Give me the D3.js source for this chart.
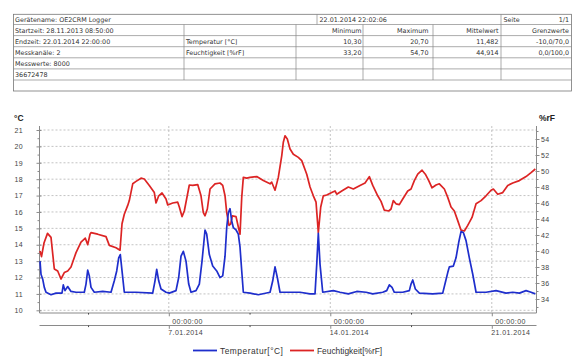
<!DOCTYPE html>
<html>
<head>
<meta charset="utf-8">
<script src="https://cdn.jsdelivr.net/npm/d3@7"></script>
<style>
  body { margin: 0; background: #fff; }
  svg text { font-family: "Liberation Sans", Arial, sans-serif; }
  .tbl text { font-family: "DejaVu Sans", sans-serif; font-size: 6.4px; fill: #333; }
  .ax text { font-size: 7px; fill: #444; letter-spacing: 0.4px; }
</style>
</head>
<body>
<svg width="584" height="362"></svg>
<script>
// ---- table texts ----
var infoLines = [
  "Startzeit: 28.11.2013 08:50:00",
  "Endzeit: 22.01.2014 22:00:00",
  "Messkanäle: 2",
  "Messwerte: 8000",
  "36672478"
];
var deviceName = "Gerätename: OE2CRM Logger";
var printDate = "22.01.2014 22:02:06";
var pageLabel = ["Seite", "1/1"];
var statHeaders = ["Minimum", "Maximum", "Mittelwert", "Grenzwerte"];
var channelNames = ["Temperatur [°C]", "Feuchtigkeit [%rF]"];
var statValues = [
  ["10,30", "20,70", "11,482", "-10,0/70,0"],
  ["33,20", "54,70", "44,914", "0,0/100,0"]
];

// ---- chart data (day in January 2014, fractional) ----
var tempDay = [1.417, 1.460, 1.534, 1.603, 1.677, 1.894, 2.110, 2.370, 2.427, 2.500, 2.617, 2.761, 2.978,
  3.337, 3.411, 3.485, 3.554, 3.628, 3.771, 4.135, 4.495, 4.638, 4.742, 4.828, 4.898, 4.972, 5.071,
  5.578, 6.302, 6.402, 6.476, 6.562, 6.662, 6.879, 7.022, 7.312, 7.429, 7.529, 7.629, 7.746, 7.863,
  7.963, 8.179, 8.323, 8.440, 8.570, 8.643, 8.756, 8.903, 9.077, 9.220, 9.337, 9.437, 9.510, 9.580,
  9.653, 9.727, 9.796, 9.914, 10.013, 10.087, 10.161, 10.230, 10.521, 10.880, 11.388, 11.505, 11.604,
  11.704, 11.821, 12.255, 12.688, 13.122, 13.338, 13.412, 13.481, 13.555, 13.672, 14.131, 14.422,
  14.781, 15.146, 15.549, 15.840, 16.273, 16.446, 16.559, 16.676, 16.776, 17.140, 17.426, 17.500,
  17.574, 17.686, 17.860, 18.440, 18.874, 18.986, 19.091, 19.160, 19.334, 19.450, 19.567, 19.667,
  19.767, 19.884, 20.027, 20.175, 20.318, 20.751, 21.185, 21.618, 21.909, 22.195, 22.485, 22.702, 22.888];
var tempVal = [13.0, 12.2, 11.9, 11.4, 11.1, 10.95, 11.05, 11.05, 11.55, 11.2, 11.45, 11.15, 11.1,
  11.1, 11.6, 12.45, 12.1, 11.4, 11.1, 11.15, 11.1, 11.8, 12.4, 13.2, 13.4, 12.4, 11.1,
  11.1, 11.05, 11.8, 12.5, 11.8, 11.3, 11.1, 11.05, 11.2, 12.0, 13.3, 13.6, 13.0, 11.6,
  11.1, 11.2, 11.6, 13.0, 14.9, 14.65, 13.4, 12.7, 12.4, 12.0, 12.1, 13.3, 15.05, 15.95,
  16.2, 15.45, 15.05, 14.9, 14.65, 13.85, 12.4, 11.1, 11.05, 10.95, 11.1, 11.8, 12.65,
  12.0, 11.1, 11.1, 11.1, 11.0, 11.0, 12.8, 14.7, 12.8, 11.1, 11.2, 11.1,
  11.0, 11.15, 11.1, 11.0, 11.1, 11.2, 11.55, 11.4, 11.1, 11.1, 11.2, 11.6,
  11.85, 11.3, 11.05, 11.0, 11.05, 11.7, 12.3, 12.65, 12.7, 13.2, 14.15, 14.8,
  14.75, 14.25, 13.2, 12.2, 11.1, 11.1, 11.2, 11.05, 11.1, 11.05, 11.2, 11.1, 11.0];

var humDay = [1.417, 1.482, 1.590, 1.742, 1.894, 2.037, 2.184, 2.327, 2.470, 2.618, 2.761, 2.978, 3.194,
  3.381, 3.485, 3.585, 3.628, 3.918, 4.278, 4.421, 4.712, 4.885, 4.972, 5.071, 5.219, 5.288, 5.436,
  5.579, 5.795, 5.938, 6.155, 6.372, 6.446, 6.563, 6.706, 6.879, 6.953, 7.170, 7.386, 7.456, 7.573,
  7.672, 7.889, 8.037, 8.253, 8.396, 8.496, 8.570, 8.670, 8.787, 9.003, 9.220, 9.337, 9.437, 9.510,
  9.610, 9.684, 9.753, 9.914, 10.013, 10.087, 10.161, 10.230, 10.378, 10.521, 10.811, 11.097, 11.388,
  11.461, 11.604, 11.747, 11.895, 11.964, 12.038, 12.137, 12.255, 12.398, 12.614, 12.762, 12.979,
  13.122, 13.265, 13.382, 13.481, 13.585, 13.698, 13.846, 14.062, 14.205, 14.279, 14.496, 14.782,
  14.999, 15.289, 15.506, 15.692, 15.840, 16.056, 16.199, 16.342, 16.533, 16.633, 16.733, 16.850,
  16.993, 17.140, 17.357, 17.500, 17.643, 17.790, 17.977, 18.120, 18.267, 18.410, 18.584, 18.727,
  18.944, 19.091, 19.234, 19.377, 19.524, 19.667, 19.811, 19.958, 20.144, 20.318, 20.534, 20.751,
  20.968, 21.068, 21.258, 21.475, 21.692, 21.909, 22.195, 22.485, 22.702, 22.888];
var humVal = [40.0, 39.3, 41.0, 42.2, 41.7, 37.75, 37.5, 36.5, 37.3, 37.5, 38.0, 39.8, 41.1,
  41.6, 40.8, 42.1, 42.3, 42.1, 41.8, 40.7, 40.4, 40.1, 43.4, 44.6, 45.7, 46.3, 48.4,
  48.7, 49.1, 49.0, 48.2, 47.3, 46.0, 46.9, 47.25, 46.5, 45.75, 46.0, 46.1, 45.5, 44.3,
  45.0, 48.25, 48.2, 48.3, 46.9, 44.8, 44.4, 45.25, 47.75, 48.4, 48.5, 48.2, 46.9, 44.8,
  43.2, 43.4, 44.4, 44.3, 43.0, 42.1, 46.7, 49.2, 49.1, 49.2, 49.3, 48.8, 48.4,
  48.6, 47.6, 49.2, 51.9, 53.6, 54.4, 54.0, 52.75, 52.1, 51.7, 51.3, 49.6,
  48.0, 46.9, 46.1, 42.3, 45.5, 46.9, 47.0, 47.3, 47.5, 47.1, 47.5, 48.0,
  47.75, 48.2, 48.5, 49.3, 48.2, 46.9, 46.2, 45.1, 45.0, 45.25, 46.3, 45.9,
  45.8, 46.5, 47.5, 47.75, 48.8, 49.6, 50.1, 49.6, 48.8, 47.9, 48.25, 48.4,
  47.75, 46.7, 45.5, 45.0, 43.8, 42.6, 42.5, 43.2, 44.2, 45.9, 46.3, 46.9,
  47.6, 47.75, 47.1, 47.3, 48.2, 48.5, 48.8, 49.3, 49.8, 50.25];

var tempTicks = d3.range(10, 22);
var tempMinor = d3.range(10.5, 21, 1);
var humTicks = d3.range(34, 56, 2);
var humMinor = d3.range(33, 56, 2);
var seriesNames = ["Temperatur[°C]", "Feuchtigkeit[%rF]"];
var seriesColors = ["#1e2ecc", "#dc2424"];

// ---- setup ----
var svg = d3.select("svg");
var jan = new Date(2014, 0, 1).getTime();
function dayToDate(d) { return new Date(jan + (d - 1) * 864e5); }

// note: "top" is taken by window.top, so plotTop
var plotLeft = 39.5, plotRight = 536.5, plotTop = 126, plotBottom = 313;

var x = d3.scaleTime()
  .domain([new Date(2014, 0, 1, 10), new Date(2014, 0, 22, 22)])
  .range([40, 536]);
var yT = d3.scaleLinear().domain([10, 21]).range([310.3, 130]);
var yH = d3.scaleLinear().domain([34, 54]).range([299, 139]);

var weekTicks = [new Date(2014, 0, 7), new Date(2014, 0, 14), new Date(2014, 0, 21)];
var halfTicks = [new Date(2014, 0, 3, 12), new Date(2014, 0, 10, 12), new Date(2014, 0, 17, 12)];

// ---- table ----
var tbl = svg.append("g").attr("class", "tbl");
var rowY = [14.3, 24.5, 35.6, 46.7, 57.8, 68.9, 80, 91];
var colX = [184, 296, 363, 433, 501];

tbl.append("rect").attr("x", 13.5).attr("y", rowY[0]).attr("width", 558).attr("height", rowY[7] - rowY[0])
  .attr("fill", "none").attr("stroke", "#777").attr("stroke-width", 0.8);
tbl.selectAll(".hl").data(rowY.slice(1, 7)).enter().append("line")
  .attr("x1", 13.5).attr("x2", 571.5).attr("y1", function(d) { return d; }).attr("y2", function(d) { return d; })
  .attr("stroke", "#888").attr("stroke-width", 0.7);
tbl.selectAll(".vl").data(colX).enter().append("line")
  .attr("x1", function(d) { return d; }).attr("x2", function(d) { return d; })
  .attr("y1", rowY[1]).attr("y2", rowY[6])
  .attr("stroke", "#888").attr("stroke-width", 0.7);
tbl.selectAll(".vl1").data([317, 501]).enter().append("line")
  .attr("x1", function(d) { return d; }).attr("x2", function(d) { return d; })
  .attr("y1", rowY[0]).attr("y2", rowY[1])
  .attr("stroke", "#888").attr("stroke-width", 0.7);

tbl.append("text").attr("x", 15).attr("y", rowY[1] - 2.6).text(deviceName);
tbl.append("text").attr("x", 319.5).attr("y", rowY[1] - 2.6).text(printDate);
tbl.append("text").attr("x", 503.5).attr("y", rowY[1] - 2.6).text(pageLabel[0]);
tbl.append("text").attr("x", 569).attr("y", rowY[1] - 2.6).attr("text-anchor", "end").text(pageLabel[1]);

tbl.selectAll(".info").data(infoLines).enter().append("text")
  .attr("x", 15).attr("y", function(d, i) { return rowY[i + 2] - 2.8; })
  .text(function(d) { return d; });

var rightEdges = [361.5, 428.5, 498.5, 569];
tbl.selectAll(".hdr").data(statHeaders).enter().append("text")
  .attr("x", function(d, i) { return rightEdges[i]; }).attr("y", rowY[2] - 2.8)
  .attr("text-anchor", "end").text(function(d) { return d; });
channelNames.forEach(function(name, r) {
  tbl.append("text").attr("x", 186).attr("y", rowY[r + 3] - 2.8).text(name);
  tbl.selectAll(".v" + r).data(statValues[r]).enter().append("text")
    .attr("x", function(d, i) { return rightEdges[i]; }).attr("y", rowY[r + 3] - 2.8)
    .attr("text-anchor", "end").text(function(d) { return d; });
});

// ---- grid ----
var grid = svg.append("g").attr("stroke", "#b4b4b4").attr("stroke-width", 0.8).attr("stroke-dasharray", "2,2");
grid.selectAll(".gh").data(tempTicks).enter().append("line")
  .attr("x1", plotLeft).attr("x2", plotRight)
  .attr("y1", function(d) { return yT(d); }).attr("y2", function(d) { return yT(d); });
grid.selectAll(".gv").data(weekTicks).enter().append("line")
  .attr("y1", plotTop).attr("y2", plotBottom)
  .attr("x1", function(d) { return x(d); }).attr("x2", function(d) { return x(d); });

// ---- axes ----
var axisColor = "#8a8a8a";
function styleAxis(g) {
  g.attr("class", "ax");
  g.select(".domain").remove();
  g.selectAll(".tick line").attr("stroke", axisColor);
}

svg.append("g").attr("transform", "translate(" + plotLeft + ",0)")
  .call(d3.axisLeft(yT).tickValues(tempTicks).tickSize(3).tickPadding(13.5).tickFormat(d3.format("d")))
  .call(styleAxis)
  .call(function(g) { g.selectAll(".tick line").attr("x1", 2); });
svg.append("g").attr("transform", "translate(" + plotLeft + ",0)")
  .call(d3.axisLeft(yT).tickValues(tempMinor).tickSize(2).tickFormat(""))
  .call(styleAxis);

svg.append("g").attr("transform", "translate(" + plotRight + ",0)")
  .call(d3.axisRight(yH).tickValues(humTicks).tickSize(3).tickPadding(1.5).tickFormat(d3.format("d")))
  .call(styleAxis)
  .call(function(g) { g.selectAll(".tick line").attr("x1", -1); });
svg.append("g").attr("transform", "translate(" + plotRight + ",0)")
  .call(d3.axisRight(yH).tickValues(humMinor.filter(function(v) { return v < 55.5; })).tickSize(2).tickFormat(""))
  .call(styleAxis);

// frame lines
svg.append("line").attr("x1", plotLeft).attr("x2", plotLeft).attr("y1", plotTop).attr("y2", plotBottom).attr("stroke", axisColor);
svg.append("line").attr("x1", plotRight).attr("x2", plotRight).attr("y1", plotTop).attr("y2", plotBottom).attr("stroke", axisColor);

// two time axes (time row and date row)
var timeRows = [
  {y: plotBottom, fmt: d3.timeFormat("%H:%M:%S"), dx: 3, dy: 10.5},
  {y: 325.5, fmt: d3.timeFormat("%-d.%m.%Y"), dx: -1, dy: 9.5}
];
timeRows.forEach(function(row) {
  svg.append("line").attr("x1", plotLeft).attr("x2", plotRight).attr("y1", row.y).attr("y2", row.y).attr("stroke", axisColor);
  var gMaj = svg.append("g").attr("transform", "translate(0," + row.y + ")")
    .call(d3.axisBottom(x).tickValues(weekTicks).tickSize(3.3).tickFormat(row.fmt))
    .call(styleAxis);
  gMaj.selectAll(".tick text").attr("text-anchor", "start").attr("x", row.dx).attr("y", row.dy).attr("dy", null);
  svg.append("g").attr("transform", "translate(0," + row.y + ")")
    .call(d3.axisBottom(x).tickValues(halfTicks).tickSize(1.6).tickFormat(""))
    .call(styleAxis)
    .call(function(g) { g.selectAll(".tick line").attr("stroke", "#444"); });
});

// unit labels
svg.append("text").attr("x", 14).attr("y", 121).attr("font-size", 8.5).attr("font-weight", "bold").attr("fill", "#222").text("°C");
svg.append("text").attr("x", 539).attr("y", 121).attr("font-size", 8.5).attr("font-weight", "bold").attr("fill", "#222").text("%rF");

// ---- lines ----
var tempData = tempDay.map(function(d, i) { return {t: dayToDate(d), v: tempVal[i]}; });
var humData = humDay.map(function(d, i) { return {t: dayToDate(d), v: humVal[i]}; });

svg.append("path").datum(humData)
  .attr("fill", "none").attr("stroke", seriesColors[1]).attr("stroke-width", 1.7).attr("stroke-linejoin", "round")
  .attr("d", d3.line().x(function(d) { return x(d.t); }).y(function(d) { return yH(d.v); }));
svg.append("path").datum(tempData)
  .attr("fill", "none").attr("stroke", seriesColors[0]).attr("stroke-width", 1.7).attr("stroke-linejoin", "round")
  .attr("d", d3.line().x(function(d) { return x(d.t); }).y(function(d) { return yT(d.v); }));

// ---- legend ----
var legendX = [193, 290];
var leg = svg.append("g");
seriesNames.forEach(function(name, i) {
  leg.append("line").attr("x1", legendX[i]).attr("x2", legendX[i] + 24).attr("y1", 350.5).attr("y2", 350.5)
    .attr("stroke", seriesColors[i]).attr("stroke-width", 1.8);
  leg.append("text").attr("x", legendX[i] + 27).attr("y", 353.5).attr("font-size", 8.4)
    .attr("letter-spacing", i === 0 ? 0.5 : 0).attr("fill", "#333").text(name);
});
</script>
</body>
</html>
